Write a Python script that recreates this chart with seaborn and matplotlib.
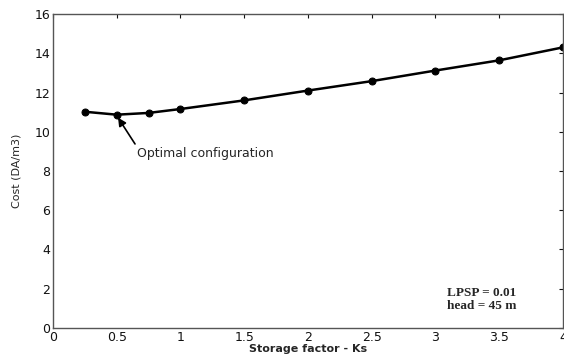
import matplotlib
matplotlib.use("Agg")
import matplotlib.pyplot as plt
import seaborn as sns
import pandas as pd

storage_factor = [0.25, 0.5, 0.75, 1.0, 1.5, 2.0, 2.5, 3.0, 3.5, 4.0]
cost = [11.02, 10.87, 10.96, 11.16, 11.6, 12.1, 12.58, 13.12, 13.64, 14.3]
x_ticks = [0, 0.5, 1, 1.5, 2, 2.5, 3, 3.5, 4]
y_ticks = [0, 2, 4, 6, 8, 10, 12, 14, 16]

df = pd.DataFrame({"Ks": storage_factor, "Cost": cost})

sns.set_style("white")
plt.rcParams['font.family'] = ['DejaVu Sans']

fig = plt.figure(figsize=(5.64, 3.6), dpi=100)
ax = fig.add_axes([0.094, 0.089, 0.904, 0.872])

sns.lineplot(data=df, x="Ks", y="Cost", ax=ax, color="black", linewidth=1.8,
             marker="o", markersize=5, markeredgecolor="black")

ax.set_xlim(0, 4)
ax.set_ylim(0, 16)
ax.set_xticks(x_ticks)
ax.set_xticklabels(["0", "0.5", "1", "1.5", "2", "2.5", "3", "3.5", "4"])
ax.set_yticks(y_ticks)
ax.tick_params(direction="in", top=True, right=True, length=3, width=0.8,
               labelsize=9, colors="#111111", pad=2)
for s in ax.spines.values():
    s.set_color("#555555")
    s.set_linewidth(1.0)

ax.set_xlabel("Storage factor - Ks", fontsize=8, fontweight="bold", labelpad=0)
ax.set_ylabel("Cost (DA/m3)", fontsize=8, labelpad=9)

ax.annotate("Optimal configuration", xy=(0.51, 10.72), xytext=(0.66, 8.88),
            fontsize=9, va="center", ha="left",
            arrowprops=dict(arrowstyle="-|>", color="black", lw=1.2,
                            shrinkA=0, shrinkB=0, mutation_scale=12,
                            relpos=(0, 1)))

ax.text(3.36, 1.45, "LPSP = 0.01\nhead = 45 m", fontsize=9.5, fontweight="bold",
        family=["Liberation Serif", "DejaVu Serif"], ha="center", va="center",
        linespacing=1.15)

fig.savefig("out.png", dpi=100)
